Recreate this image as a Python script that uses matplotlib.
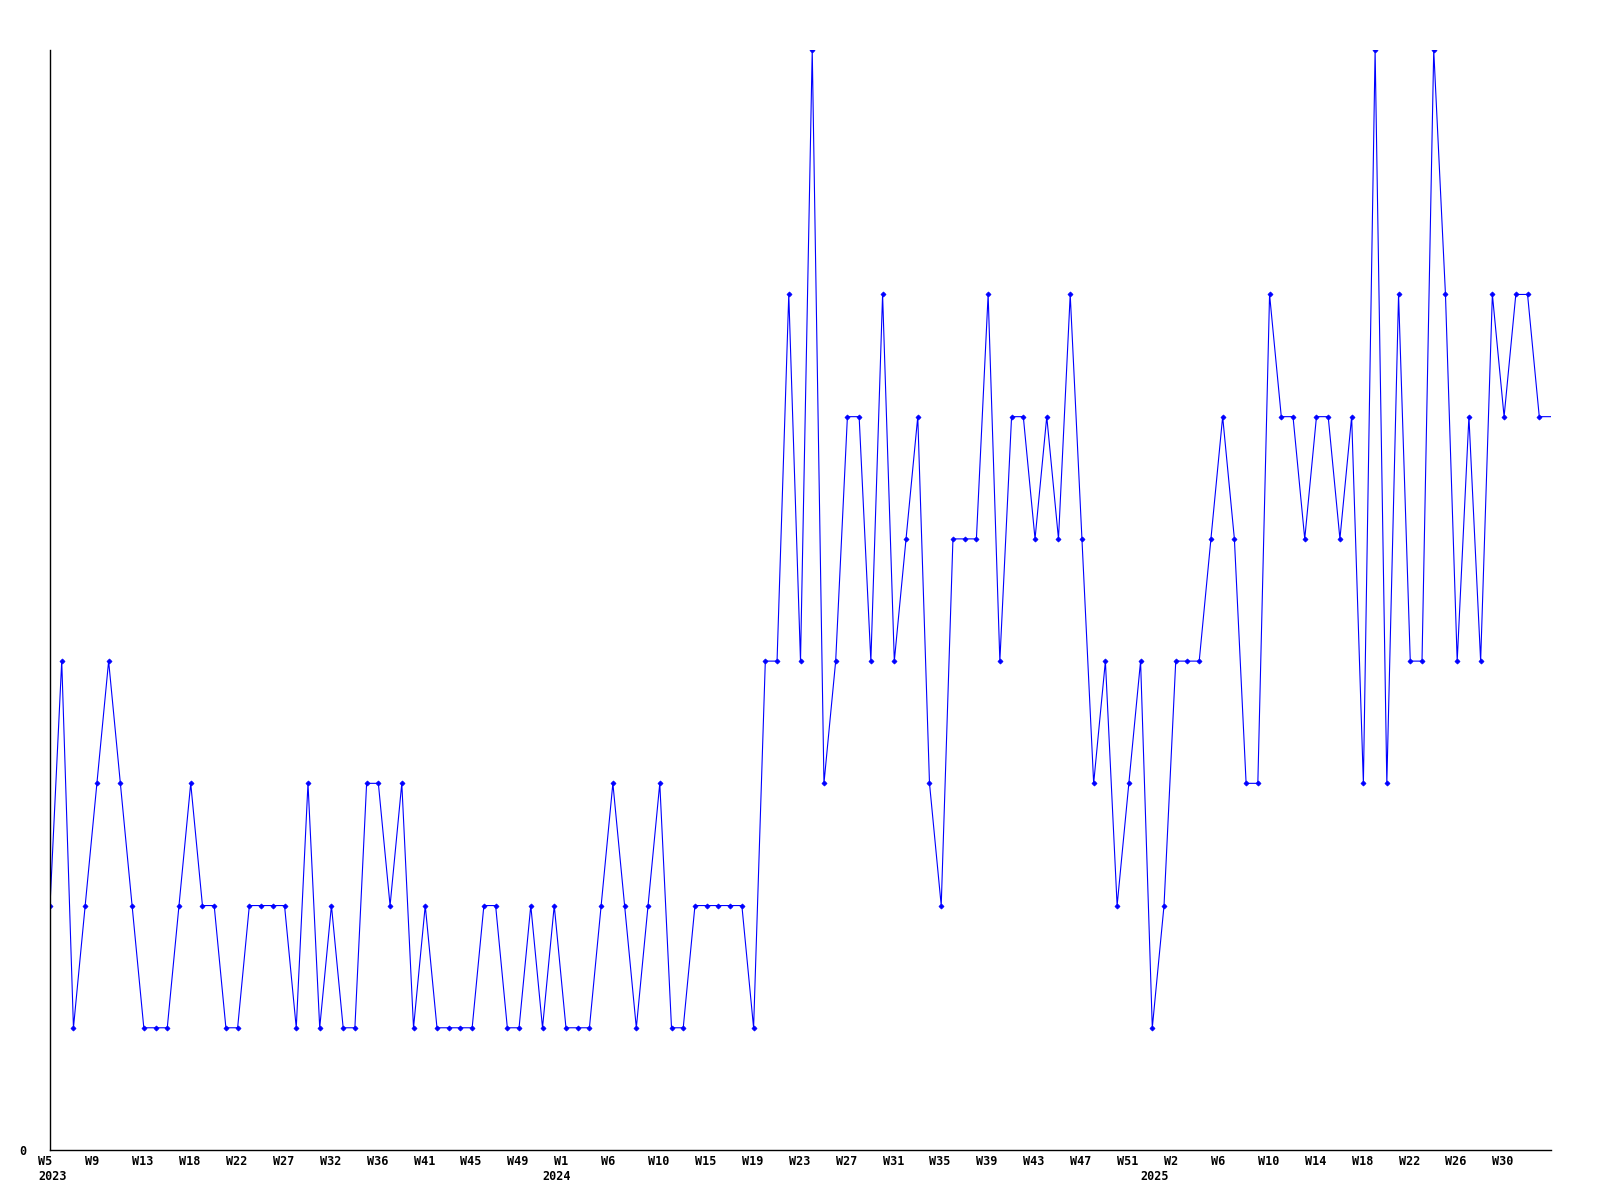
import numpy as np
import matplotlib
matplotlib.use("Agg")
import matplotlib.pyplot as plt
import matplotlib.transforms as mtransforms

# weekly counts, one per point; the last value is the open (current) period, drawn without marker
values = [2, 4, 1, 2, 3, 4, 3, 2, 1, 1, 1, 2, 3, 2, 2, 1, 1, 2, 2, 2,
          2, 1, 3, 1, 2, 1, 1, 3, 3, 2, 3, 1, 2, 1, 1, 1, 1, 2, 2, 1,
          1, 2, 1, 2, 1, 1, 1, 2, 3, 2, 1, 2, 3, 1, 1, 2, 2, 2, 2, 2,
          1, 4, 4, 7, 4, 9, 3, 4, 6, 6, 4, 7, 4, 5, 6, 3, 2, 5, 5, 5,
          7, 4, 6, 6, 5, 6, 5, 7, 5, 3, 4, 2, 3, 4, 1, 2, 4, 4, 4, 5,
          6, 5, 3, 3, 7, 6, 6, 5, 6, 6, 5, 6, 3, 9, 3, 7, 4, 4, 9, 7,
          4, 6, 4, 7, 6, 7, 7, 6, 6]

week_labels = ["W5", "W9", "W13", "W18", "W22", "W27", "W32", "W36", "W41",
               "W45", "W49", "W1", "W6", "W10", "W15", "W19", "W23", "W27",
               "W31", "W35", "W39", "W43", "W47", "W51", "W2", "W6", "W10",
               "W14", "W18", "W22", "W26", "W30"]
year_labels = ["2023", "2024", "2025"]
year_at = [-1, 42, 93]   # index where each year label starts

label_step = 4
font = dict(family="DejaVu Sans Mono", fontweight="bold", fontsize=8.5)

x = np.arange(len(values))
n_marked = len(values) - 1

fig = plt.figure(figsize=(16, 12), dpi=100)
ax = fig.add_axes([50 / 1600, 50 / 1200, 1501 / 1600, 1100 / 1200])

ax.plot(x, values, color="#0000ff", linewidth=0.8,
        marker="D", markersize=2.6, markeredgewidth=0.5,
        markevery=list(range(n_marked)))

ax.set_xlim(0, len(values) - 1)
ax.set_ylim(0, 9)

for s in ["top", "right"]:
    ax.spines[s].set_visible(False)
for s in ["left", "bottom"]:
    ax.spines[s].set_linewidth(1.0)
    ax.spines[s].set_color("black")

ax.set_xticks([])
ax.set_yticks([0])
ax.set_yticklabels(["0"], **font)
ax.tick_params(axis="y", length=0, pad=17)

trans = mtransforms.blended_transform_factory(ax.transData, ax.transAxes)
for i, lab in enumerate(week_labels):
    ax.text(i * label_step - 1, -0.0105, lab, transform=trans, ha="left",
            va="center", clip_on=False, **font)
for pos, lab in zip(year_at, year_labels):
    ax.text(pos, -0.0245, lab, transform=trans, ha="left",
            va="center", clip_on=False, **font)

fig.savefig("out.png", dpi=100, facecolor="white")
